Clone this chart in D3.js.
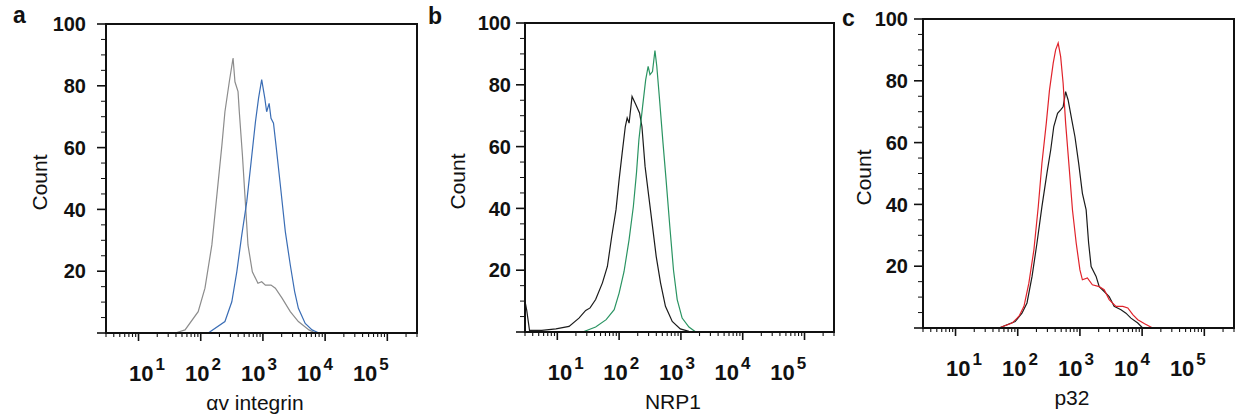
<!DOCTYPE html>
<meta charset="utf-8">
<head>
  <title>Flow cytometry histograms</title>
</head>
<style>
body {
  margin: 0;
  background: #fff;
  font-family: "Liberation Sans", Arial, sans-serif;
}
.tick-label { font-weight: bold; fill: #111; }
.axis-title { font-size: 21px; fill: #111; }
.panel-letter { font-weight: bold; font-size: 23px; fill: #111; }
</style>
<body>
<svg id="chart" width="1238" height="419"></svg>

<script src="https://cdn.jsdelivr.net/npm/d3@7"></script>
<script>
// --- data: [fluorescence intensity, count] ---
var avIntegrinControl = [[39,0],[56,1],[91,6.9],[117,14.5],[151,28.5],[182,44.7],[219,60.8],[245,71.6],[288,81.3],[331,89],[355,81.3],[398,78.1],[417,71.6],[468,57.6],[513,44.7],[575,28.5],[676,19.8],[832,16.1],[955,16.6],[1096,15.5],[1349,15.5],[1585,14.5],[2042,11.2],[2754,6.9],[3715,3.7],[5495,1],[6918,0]];
var avIntegrinStained = [[132,0],[245,3.7],[316,10.1],[380,19.8],[457,31.7],[550,42.5],[646,55.4],[759,68.4],[851,76],[955,82],[1072,76],[1148,71.6],[1259,74.3],[1349,69.5],[1479,67.9],[1622,60.8],[1905,47.9],[2291,32.8],[2754,22],[3236,13.4],[3715,8],[4786,3.1],[6166,1],[7943,0]];
var nrp1Control = [[3,10],[3.2,7],[3.55,0.5],[5.6,0.5],[9.5,1],[15.5,1.8],[22.4,4.5],[28.8,7],[33.9,7.8],[41.7,10.5],[53.7,15.9],[64.6,21.2],[75.9,30.9],[89.1,39.6],[100,49.3],[112,57.9],[126,66.5],[135,69.3],[145,67.6],[162,76.2],[186,73.6],[214,70.9],[234,66.5],[263,53.6],[302,43.9],[347,34.2],[398,24.5],[468,15.9],[562,8.3],[724,3.4],[977,1],[1349,0.2],[2000,0]];
var nrp1Stained = [[25.7,0],[41.7,1.6],[61.7,4],[83.2,7.2],[100,12.6],[120,19.5],[145,29.9],[170,40.6],[191,51.5],[209,62.2],[240,73],[269,81.6],[295,86],[316,83.3],[347,84.3],[380,91.1],[407,86],[447,76.2],[513,61.2],[575,49.3],[661,34.2],[759,20],[871,10.5],[1047,4.5],[1349,1.6],[1738,0]];
var p32Control = [[50,0],[91,2.1],[117,4.8],[141,8.1],[170,16.7],[204,27.5],[245,39.3],[295,50.1],[339,57.6],[380,65.2],[437,69.5],[490,70.6],[537,71.6],[589,76.5],[646,73.8],[741,67.3],[832,61.9],[955,53.3],[1096,43.6],[1259,38.2],[1380,27.5],[1514,19.9],[1820,16.7],[2042,13.4],[2455,11.8],[2951,10.2],[3548,7],[4571,5.9],[5495,4.8],[6607,3.2],[8511,1.6],[10233,0]];
var p32Stained = [[50,0],[81,1.6],[105,3.8],[126,7],[151,14.5],[182,25.3],[214,39.3],[245,53.3],[288,66.3],[324,77],[372,85.7],[407,90],[447,92.2],[490,87.8],[537,79.2],[589,66.3],[676,51.2],[759,38.2],[871,27.5],[1000,18.8],[1096,15.6],[1318,16.2],[1585,14],[2042,13.4],[2455,12.4],[2951,9.2],[3802,7],[4898,7],[5888,6.5],[7079,4.3],[8511,2.7],[10965,1.4],[14791,0]];

var panelLetters = ["a", "b", "c"];
var axisTitles = ["\u03b1v integrin", "NRP1", "p32"];
var countTicks = [20, 40, 60, 80, 100];
var decadeTicks = [10, 100, 1000, 10000, 100000];
var xDomain = [3, 300000];
var yDomain = [0, 100];

// panel layout (pixels)
var panels = [
  {left: 106, top: 24, w: 311, h: 309, letter: [13, 23], countOff: 67, yLabOff: 20,
   series: [{d: avIntegrinControl, c: "#8c8c8c"}, {d: avIntegrinStained, c: "#3a6db5"}]},
  {left: 525, top: 23, w: 309, h: 309, letter: [428, 24], countOff: 68, yLabOff: 14,
   series: [{d: nrp1Control, c: "#1b1b1b"}, {d: nrp1Stained, c: "#2a9462"}]},
  {left: 923, top: 19, w: 311, h: 309, letter: [842, 26], countOff: 60, yLabOff: 15,
   series: [{d: p32Control, c: "#1b1b1b"}, {d: p32Stained, c: "#e0232b"}]}
];

var svg = d3.select("#chart");

panels.forEach(function(p, i) {
  var x = d3.scaleLog().domain(xDomain).range([p.left, p.left + p.w]);
  var y = d3.scaleLinear().domain(yDomain).range([p.top + p.h, p.top]);
  var g = svg.append("g");

  // histograms
  var line = d3.line()
    .x(function(d) { return x(d[0]); })
    .y(function(d) { return y(d[1]); });
  p.series.forEach(function(s) {
    g.append("path")
      .attr("d", line(s.d))
      .attr("fill", "none")
      .attr("stroke", s.c)
      .attr("stroke-width", 1.2);
  });

  // y ticks: majors every 20, minors every 5
  var yMinor = d3.range(0, 101, 5);
  g.selectAll(".ym").data(yMinor).enter().append("line")
    .attr("x1", function(d) { return d % 20 === 0 ? p.left - 9 : p.left - 5; })
    .attr("x2", p.left)
    .attr("y1", function(d) { return y(d); })
    .attr("y2", function(d) { return y(d); })
    .attr("stroke", "#111")
    .attr("stroke-width", function(d) { return d % 20 === 0 ? 1.6 : 1; });

  g.selectAll(".yl").data(countTicks).enter().append("text")
    .attr("class", "tick-label")
    .attr("font-size", 20)
    .attr("x", p.left - p.yLabOff)
    .attr("y", function(d) { return y(d); })
    .attr("dy", "0.36em")
    .attr("text-anchor", "end")
    .text(function(d) { return d; });

  // x ticks: decades and 2..9 minors
  var xMinor = [];
  for (var e = 0; e <= 5; e++) {
    for (var k = 1; k <= 9; k++) {
      var v = k * Math.pow(10, e);
      if (v >= xDomain[0] && v <= xDomain[1]) xMinor.push({v: v, major: k === 1});
    }
  }
  g.selectAll(".xm").data(xMinor).enter().append("line")
    .attr("x1", function(d) { return x(d.v); })
    .attr("x2", function(d) { return x(d.v); })
    .attr("y1", p.top + p.h)
    .attr("y2", function(d) { return p.top + p.h + (d.major ? 8 : 4); })
    .attr("stroke", "#111")
    .attr("stroke-width", function(d) { return d.major ? 1.6 : 1.1; });

  // decade labels sit a little tighter than the ticks, as in the original
  var mid = x(1000);
  var xl = g.selectAll(".xl").data(decadeTicks).enter().append("text")
    .attr("class", "tick-label")
    .attr("font-size", 22)
    .attr("x", function(d) { return mid - 22 + (x(d) - mid) * 0.9; })
    .attr("y", p.top + p.h + 48);
  xl.append("tspan").text("10");
  xl.append("tspan")
    .attr("dx", 2)
    .attr("dy", -11)
    .attr("font-size", 17)
    .text(function(d) { return Math.round(Math.log10(d)); });

  // frame
  g.append("rect")
    .attr("x", p.left).attr("y", p.top)
    .attr("width", p.w).attr("height", p.h)
    .attr("fill", "none")
    .attr("stroke", "#111")
    .attr("stroke-width", 2);

  // titles
  g.append("text")
    .attr("class", "axis-title")
    .attr("transform", "translate(" + (p.left - p.countOff) + "," + (p.top + p.h / 2 + 4) + ") rotate(-90)")
    .attr("text-anchor", "middle")
    .attr("dy", "0.36em")
    .text("Count");

  g.append("text")
    .attr("class", "axis-title")
    .attr("x", mid - 8)
    .attr("y", p.top + p.h + 77)
    .attr("text-anchor", "middle")
    .text(axisTitles[i]);

  g.append("text")
    .attr("class", "panel-letter")
    .attr("x", p.letter[0])
    .attr("y", p.letter[1])
    .text(panelLetters[i]);
});
</script>
</body>
</html>
